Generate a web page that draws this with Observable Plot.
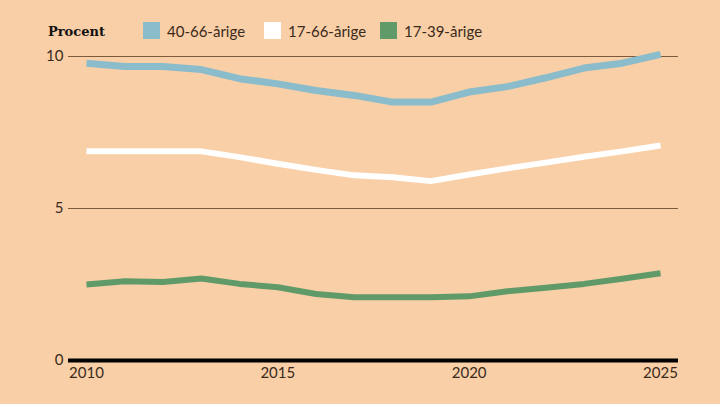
<!DOCTYPE html>
<html>
<head>
<meta charset="utf-8">
<script src="https://cdn.jsdelivr.net/npm/d3@7"></script>
<script src="https://cdn.jsdelivr.net/npm/@observablehq/plot@0.6"></script>
<style>
  html, body { margin: 0; padding: 0; background: #f8cfa6; width: 720px; height: 404px; overflow: hidden; }
  #header { position: relative; height: 44px; font-family: Lato, "Open Sans", sans-serif; color: #3b2a1c; }
  #header .t { position: absolute; top: 22px; font-size: 15px; line-height: 18px; white-space: nowrap; }
  #header .title { font-family: "DejaVu Serif", serif; font-weight: bold; font-size: 13px; color: #111; top: 23px; }
  #header .sw { position: absolute; top: 22px; width: 17px; height: 17px; }
  #chart svg { display: block; }
</style>
</head>
<body>
<div id="header"></div>
<div id="chart"></div>
<script>
const years = [2010, 2011, 2012, 2013, 2014, 2015, 2016, 2017, 2018, 2019, 2020, 2021, 2022, 2023, 2024, 2025];
const v40_66 = [9.78, 9.67, 9.67, 9.57, 9.27, 9.10, 8.88, 8.72, 8.50, 8.50, 8.83, 9.01, 9.30, 9.62, 9.78, 10.07];
const v17_66 = [6.88, 6.88, 6.88, 6.88, 6.69, 6.47, 6.27, 6.09, 6.03, 5.90, 6.12, 6.32, 6.51, 6.70, 6.88, 7.07];
const v17_39 = [2.50, 2.61, 2.58, 2.70, 2.52, 2.41, 2.19, 2.08, 2.08, 2.08, 2.11, 2.28, 2.39, 2.52, 2.69, 2.87];
const seriesNames = ["40-66-årige", "17-66-årige", "17-39-årige"];
const seriesColors = ["#8bbccc", "#ffffff", "#609a68"];
const seriesWidths = [7, 6, 6];
const yTicks = [0, 5, 10];
const xTicks = [2010, 2015, 2020, 2025];
const titleText = "Procent";

// header / legend
const header = document.getElementById("header");
const title = document.createElement("span");
title.className = "t title";
title.style.left = "48px";
title.textContent = titleText;
header.appendChild(title);
const swLeft = [143, 264, 380];
seriesNames.forEach((name, i) => {
  const sw = document.createElement("span");
  sw.className = "sw";
  sw.style.left = swLeft[i] + "px";
  sw.style.background = seriesColors[i];
  header.appendChild(sw);
  const t = document.createElement("span");
  t.className = "t";
  t.style.left = (swLeft[i] + 24) + "px";
  t.textContent = name;
  header.appendChild(t);
});

const allValues = [v40_66, v17_66, v17_39];
const data = [];
allValues.forEach((vals, s) => {
  vals.forEach((v, i) => data.push({year: years[i], value: v, series: seriesNames[s]}));
});

const plot = Plot.plot({
  width: 720,
  height: 360,
  marginTop: 12,
  marginBottom: 44,
  marginLeft: 68,
  marginRight: 42,
  style: {background: "transparent", fontFamily: "Lato, 'Open Sans', sans-serif", fontSize: "15px", color: "#3b2a1c"},
  x: {domain: [2009.53, 2025.47]},
  y: {domain: [0, 10]},
  marks: [
    Plot.ruleY([5, 10], {stroke: "#7b5b3b", strokeWidth: 1}),
    ...seriesNames.map((name, s) =>
      Plot.line(data.filter(d => d.series === name), {
        x: "year", y: "value",
        stroke: seriesColors[s], strokeWidth: seriesWidths[s],
        strokeLinejoin: "round", strokeLinecap: "butt"
      })
    ),
    Plot.ruleY([0], {stroke: "#000", strokeWidth: 4}),
    Plot.axisX({ticks: xTicks, tickFormat: d => String(d), tickSize: 0, tickPadding: 7, label: null, fill: "#3b2a1c"}),
    Plot.axisY({ticks: yTicks, tickSize: 0, tickPadding: 5, label: null, fill: "#3b2a1c"})
  ]
});
document.getElementById("chart").appendChild(plot);
</script>
</body>
</html>
